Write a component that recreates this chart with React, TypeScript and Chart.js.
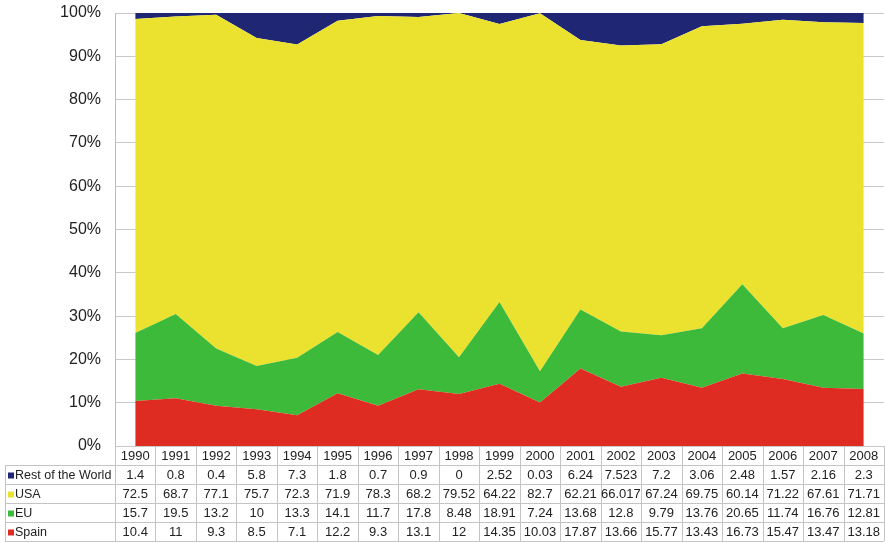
import React, { useEffect, useRef } from "react";
import { Chart, registerables } from "chart.js";

Chart.register(...registerables);

const years = ["1990","1991","1992","1993","1994","1995","1996","1997","1998","1999","2000","2001","2002","2003","2004","2005","2006","2007","2008"];
const restOfWorld = [1.4,0.8,0.4,5.8,7.3,1.8,0.7,0.9,0,2.52,0.03,6.24,7.523,7.2,3.06,2.48,1.57,2.16,2.3];
const usa = [72.5,68.7,77.1,75.7,72.3,71.9,78.3,68.2,79.52,64.22,82.7,62.21,66.017,67.24,69.75,60.14,71.22,67.61,71.71];
const eu = [15.7,19.5,13.2,10,13.3,14.1,11.7,17.8,8.48,18.91,7.24,13.68,12.8,9.79,13.76,20.65,11.74,16.76,12.81];
const spain = [10.4,11,9.3,8.5,7.1,12.2,9.3,13.1,12,14.35,10.03,17.87,13.66,15.77,13.43,16.73,15.47,13.47,13.18];

const yTicks = [0,10,20,30,40,50,60,70,80,90,100];

const COLORS = {
  rest: "#1f2775",
  usa: "#ebe230",
  eu: "#3dba3a",
  spain: "#de2c22",
};

const FONT = "Arial, 'Liberation Sans', sans-serif";

const totals = years.map((_, i) => restOfWorld[i] + usa[i] + eu[i] + spain[i]);
const pct = (arr: number[]) => arr.map((v, i) => (v / totals[i]) * 100);

const tableRows = [
  { label: "Rest of the World", color: COLORS.rest, values: restOfWorld },
  { label: "USA", color: COLORS.usa, values: usa },
  { label: "EU", color: COLORS.eu, values: eu },
  { label: "Spain", color: COLORS.spain, values: spain },
];

const tablePlugin = {
  id: "dataTable",
  afterDraw(chart: any) {
    const ctx = chart.ctx as CanvasRenderingContext2D;
    const area = chart.chartArea;
    const n = years.length;
    const cw = (area.right - area.left) / n;
    const top = area.bottom;
    const headH = 19;
    const rowH = 19;
    const labelLeft = 5;
    ctx.save();
    ctx.strokeStyle = "#c4c4c4";
    ctx.lineWidth = 1;
    for (let i = 0; i <= n; i++) {
      const x = Math.round(area.left + i * cw) + 0.5;
      ctx.beginPath();
      ctx.moveTo(x, top);
      ctx.lineTo(x, top + headH + rowH * tableRows.length);
      ctx.stroke();
    }
    ctx.beginPath();
    ctx.moveTo(labelLeft + 0.5, top + headH);
    ctx.lineTo(labelLeft + 0.5, top + headH + rowH * tableRows.length);
    ctx.stroke();
    for (let r = 0; r <= tableRows.length; r++) {
      const y = Math.round(top + headH + r * rowH) + 0.5;
      ctx.beginPath();
      ctx.moveTo(labelLeft, y);
      ctx.lineTo(area.right, y);
      ctx.stroke();
    }
    ctx.fillStyle = "#222";
    ctx.font = `13px ${FONT}`;
    ctx.textAlign = "center";
    ctx.textBaseline = "middle";
    for (let i = 0; i < n; i++) {
      const cx = area.left + (i + 0.5) * cw;
      ctx.fillText(years[i], cx, top + headH / 2 + 1);
      tableRows.forEach((row, r) => {
        ctx.fillText(String(row.values[i]), cx, top + headH + r * rowH + rowH / 2 + 1);
      });
    }
    ctx.textAlign = "left";
    ctx.font = `12.5px ${FONT}`;
    tableRows.forEach((row, r) => {
      const cy = top + headH + r * rowH + rowH / 2 + 1;
      ctx.fillStyle = row.color;
      ctx.fillRect(8, cy - 3, 6, 6);
      ctx.fillStyle = "#222";
      ctx.fillText(row.label, 15, cy);
    });
    ctx.restore();
  },
};

export default function App() {
  const ref = useRef<HTMLCanvasElement>(null);
  useEffect(() => {
    if (!ref.current) return;
    const mk = (label: string, data: number[], color: string, fill: any) => ({
      label,
      data,
      backgroundColor: color,
      borderColor: color,
      borderWidth: 0,
      pointRadius: 0,
      tension: 0,
      fill,
    });
    const chart = new Chart(ref.current, {
      type: "line",
      data: {
        labels: years,
        datasets: [
          mk("Spain", pct(spain), COLORS.spain, "origin"),
          mk("EU", pct(eu), COLORS.eu, "-1"),
          mk("USA", pct(usa), COLORS.usa, "-1"),
          mk("Rest of the World", pct(restOfWorld), COLORS.rest, "-1"),
        ],
      },
      options: {
        animation: false,
        responsive: false,
        maintainAspectRatio: false,
        layout: { padding: { top: 13, right: 1, bottom: 97, left: 0 } },
        plugins: { legend: { display: false }, tooltip: { enabled: false } },
        scales: {
          x: {
            display: false,
            offset: true,
          },
          y: {
            stacked: true,
            min: 0,
            max: 100,
            afterFit: (s: any) => { s.width = 115; s.paddingTop = 0; s.paddingBottom = 0; },
            afterBuildTicks: (s: any) => { s.ticks = yTicks.map((v) => ({ value: v })); },
            border: { display: true, color: "#bdbdbd" },
            grid: { color: "#c8c8c8", drawTicks: false },
            ticks: {
              padding: 14,
              color: "#222",
              font: { size: 16, family: FONT },
              callback: (v: any) => `${v}%`,
            },
          },
        },
      },
      plugins: [tablePlugin],
    });
    return () => chart.destroy();
  }, []);
  return (
    <div style={{ position: "fixed", left: 0, top: 0, width: 885, height: 543, background: "#fff" }}>
      <canvas ref={ref} width={885} height={543} style={{ width: 885, height: 543 }} />
    </div>
  );
}
